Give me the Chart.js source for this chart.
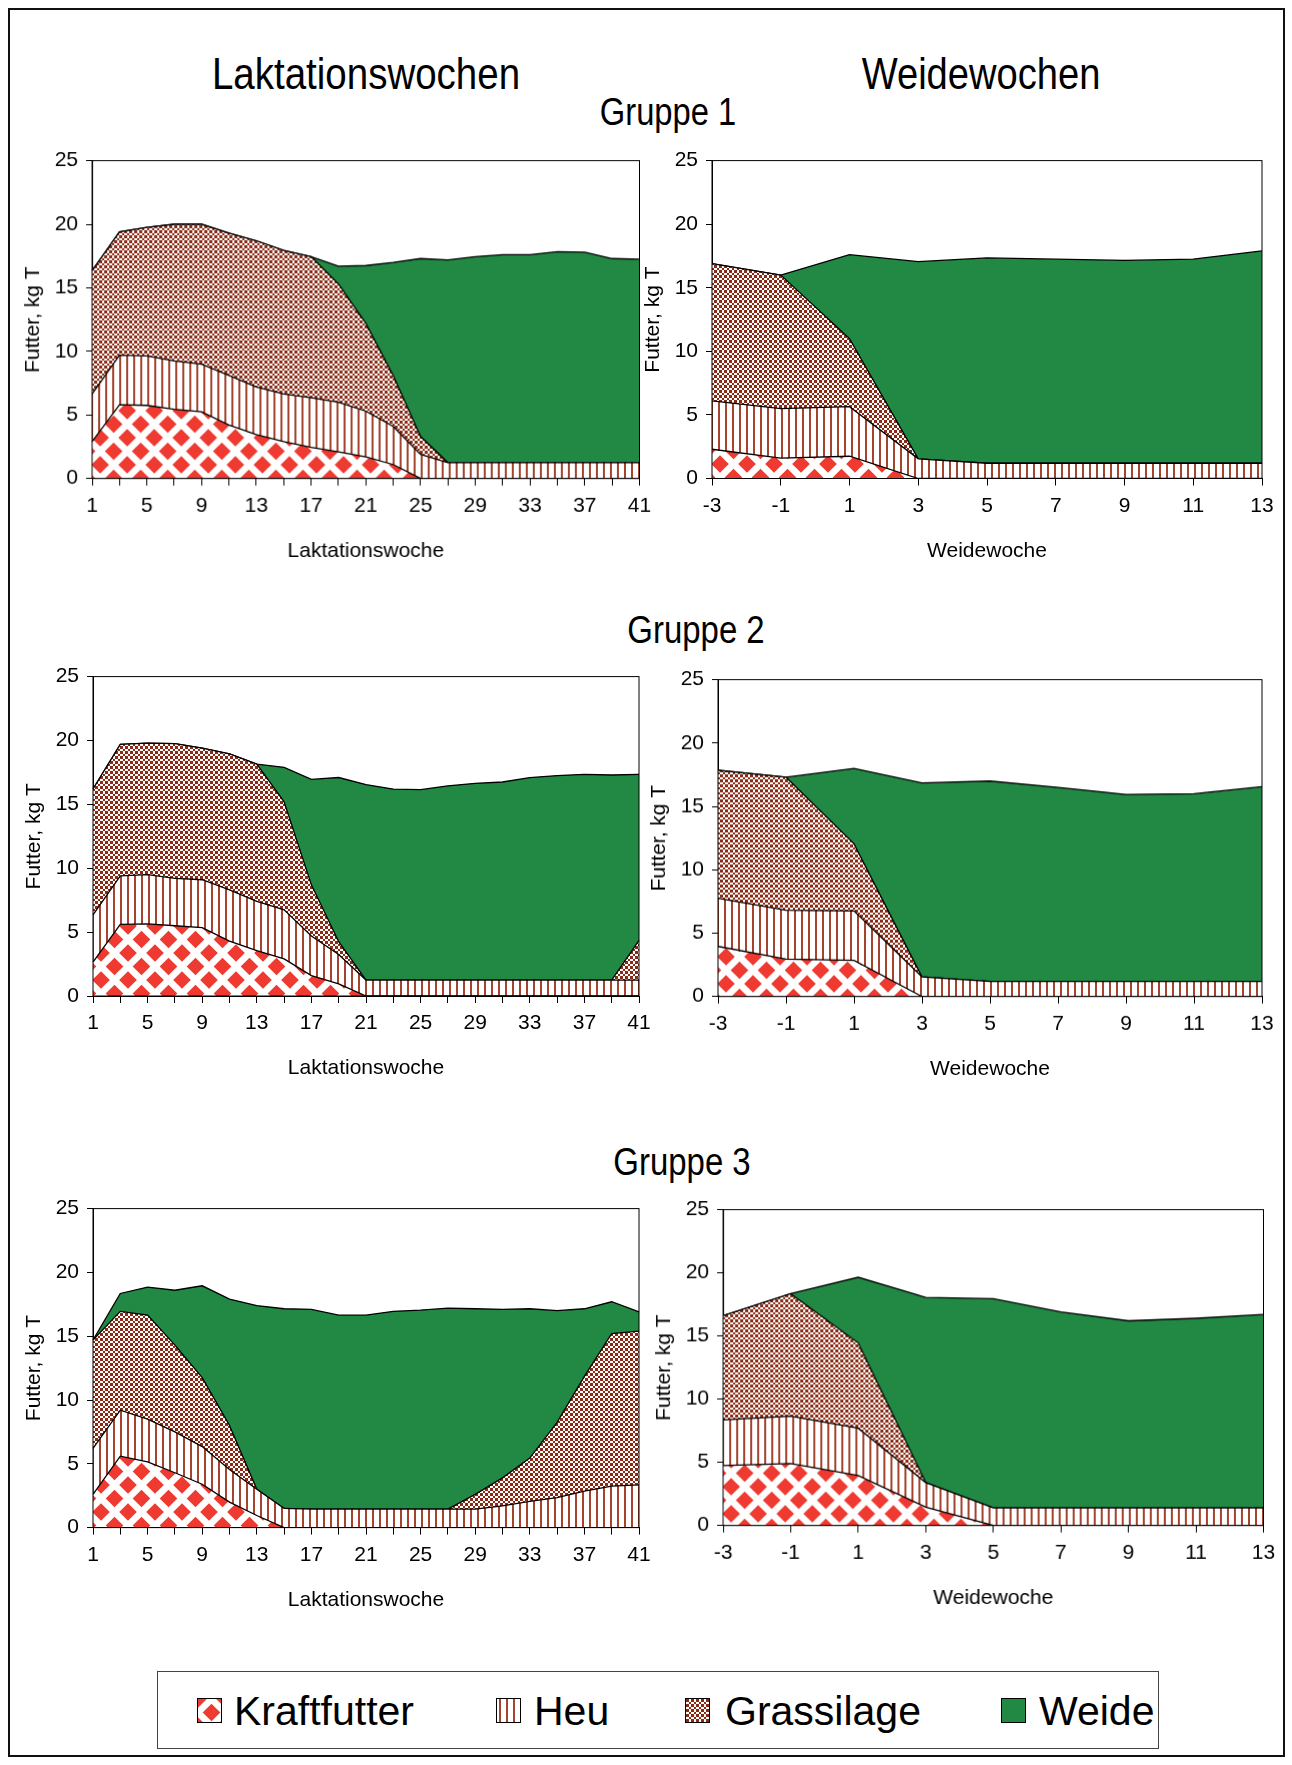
<!DOCTYPE html>
<html>
<head>
<meta charset="utf-8">
<script src="https://cdn.jsdelivr.net/npm/chart.js@4.4.1/dist/chart.umd.min.js"></script>
<style>
  body { margin: 0; background: #fff; font-family: 'Liberation Sans', Arial, sans-serif; }
  #page { position: relative; width: 1292px; height: 1765px; overflow: hidden; }
  #frame { position: absolute; left: 8px; top: 8px; width: 1273px; height: 1745px; border: 2px solid #111; }
  .t { position: absolute; white-space: nowrap; line-height: 1; color: #000; }
  .box { position: absolute; }
  #legend { position: absolute; left: 157px; top: 1671px; width: 1000px; height: 76px; border: 1.5px solid #444; }
  .sw { position: absolute; width: 23px; height: 23px; border: 1.5px solid #000; }
</style>
</head>
<body>
<div id="page">
  <div id="frame"></div>

  <div class="t" data-cx="366" data-cy="74" data-w="308" style="font-size:44px">Laktationswochen</div>
  <div class="t" data-cx="981" data-cy="74" data-w="239" style="font-size:44px">Weidewochen</div>
  <div class="t" data-cx="668" data-cy="112" data-w="136" style="font-size:38px">Gruppe 1</div>
  <div class="t" data-cx="696" data-cy="630" data-w="137" style="font-size:38px">Gruppe 2</div>
  <div class="t" data-cx="682" data-cy="1162" data-w="137" style="font-size:38px">Gruppe 3</div>

  <div class="box" id="b1"><canvas id="c1"></canvas></div>
  <div class="box" id="b2"><canvas id="c2"></canvas></div>
  <div class="box" id="b3"><canvas id="c3"></canvas></div>
  <div class="box" id="b4"><canvas id="c4"></canvas></div>
  <div class="box" id="b5"><canvas id="c5"></canvas></div>
  <div class="box" id="b6"><canvas id="c6"></canvas></div>

  <div id="legend"></div>
  <canvas class="sw" id="sw0" width="23" height="23" style="left:197px;top:1698px"></canvas>
  <div class="t" style="left:234px;top:1691px;font-size:41px">Kraftfutter</div>
  <canvas class="sw" id="sw1" width="23" height="23" style="left:496px;top:1698px"></canvas>
  <div class="t" style="left:534px;top:1691px;font-size:41px">Heu</div>
  <canvas class="sw" id="sw2" width="23" height="23" style="left:685px;top:1698px"></canvas>
  <div class="t" style="left:725px;top:1691px;font-size:41px">Grassilage</div>
  <canvas class="sw" id="sw3" width="23" height="23" style="left:1001px;top:1698px"></canvas>
  <div class="t" style="left:1039px;top:1691px;font-size:41px">Weide</div>
</div>

<script>
// x categories
const laktWeeks = ['1','3','5','7','9','11','13','15','17','19','21','23','25','27','29','31','33','35','37','39','41'];
const weideWeeks = ['-3','-1','1','3','5','7','9','11','13'];
const seriesNames = ['Kraftfutter', 'Heu', 'Grassilage', 'Weide'];

// Gruppe 1, Laktationswoche (kg T)
const g1LaktKraft = [2.9,5.8,5.75,5.45,5.25,4.2,3.45,2.9,2.45,2.1,1.7,1.1,0,0,0,0,0,0,0,0,0];
const g1LaktHeu   = [3.75,3.9,3.9,3.8,3.75,3.9,3.75,3.75,3.9,3.9,3.6,3.0,1.9,1.25,1.25,1.25,1.25,1.25,1.25,1.25,1.25];
const g1LaktGras  = [9.7,9.7,10.1,10.75,11.0,11.2,11.5,11.3,11.1,9.3,6.9,4.0,1.4,0,0,0,0,0,0,0,0];
const g1LaktWeide = [0,0,0,0,0,0,0,0,0,1.4,4.55,8.9,14.0,15.95,16.2,16.35,16.35,16.6,16.55,16.05,16.0];

// Gruppe 1, Weidewoche
const g1WeideKraft = [2.3,1.6,1.75,0,0,0,0,0,0];
const g1WeideHeu   = [3.8,3.9,3.9,1.55,1.2,1.2,1.2,1.2,1.2];
const g1WeideGras  = [10.8,10.5,5.35,0,0,0,0,0,0];
const g1WeideWeide = [0,0,6.6,15.5,16.15,16.05,15.95,16.05,16.7];

// Gruppe 2, Laktationswoche
const g2LaktKraft = [2.65,5.6,5.65,5.5,5.35,4.3,3.55,2.9,1.6,0.95,0,0,0,0,0,0,0,0,0,0,0];
const g2LaktHeu   = [3.7,3.8,3.85,3.7,3.75,4.0,3.85,3.85,3.1,2.3,1.25,1.25,1.25,1.25,1.25,1.25,1.25,1.25,1.25,1.25,1.25];
const g2LaktGras  = [9.85,10.3,10.3,10.55,10.3,10.65,10.75,8.45,4.0,1.0,0,0,0,0,0,0,0,0,0,0,3.1];
const g2LaktWeide = [0,0,0,0,0,0,0,2.7,8.25,12.85,15.3,14.95,14.9,15.2,15.4,15.5,15.85,16.0,16.1,16.05,13.0];

// Gruppe 2, Weidewoche
const g2WeideKraft = [3.95,2.95,2.85,0,0,0,0,0,0];
const g2WeideHeu   = [3.8,3.85,3.9,1.55,1.2,1.2,1.2,1.2,1.2];
const g2WeideGras  = [10.1,10.5,5.3,0,0,0,0,0,0];
const g2WeideWeide = [0,0,5.95,15.3,15.8,15.3,14.75,14.8,15.35];

// Gruppe 3, Laktationswoche
const g3LaktKraft = [2.6,5.6,5.15,4.3,3.4,2.0,0.95,0,0,0,0,0,0,0,0,0,0,0,0,0,0];
const g3LaktHeu   = [3.6,3.6,3.35,3.2,2.95,2.55,2.05,1.5,1.45,1.45,1.45,1.45,1.45,1.45,1.45,1.7,2.05,2.35,2.85,3.25,3.35];
const g3LaktGras  = [8.5,7.75,8.15,6.8,5.4,3.45,0,0,0,0,0,0,0,0,1.15,2.2,3.4,5.9,9.0,11.95,12.05];
const g3LaktWeide = [0,1.4,2.2,4.3,7.2,9.9,14.4,15.65,15.65,15.2,15.2,15.5,15.6,15.75,14.55,13.2,11.7,8.75,5.3,2.5,1.5];

// Gruppe 3, Weidewoche
const g3WeideKraft = [4.75,4.9,3.95,1.45,0,0,0,0,0];
const g3WeideHeu   = [3.6,3.75,3.75,1.95,1.4,1.4,1.4,1.4,1.4];
const g3WeideGras  = [8.25,9.7,6.75,0,0,0,0,0,0];
const g3WeideWeide = [0,0,5.2,14.65,16.55,15.5,14.8,15.0,15.3];

// fill patterns
function makePattern(w, h, draw) {
  const c = document.createElement('canvas');
  c.width = w; c.height = h;
  const g = c.getContext('2d');
  draw(g);
  return g.createPattern(c, 'repeat');
}

const kraftPattern = makePattern(27, 27, g => {
  g.fillStyle = '#fff';
  g.fillRect(0, 0, 27, 27);
  g.fillStyle = '#ee3a30';
  const r = 8.8;
  [[0, 0], [27, 0], [0, 27], [27, 27], [13.5, 13.5]].forEach(([x, y]) => {
    g.beginPath();
    g.moveTo(x, y - r); g.lineTo(x + r, y); g.lineTo(x, y + r); g.lineTo(x - r, y);
    g.closePath();
    g.fill();
  });
});
const heuPattern = makePattern(7, 7, g => {
  g.fillStyle = '#fff';
  g.fillRect(0, 0, 7, 7);
  g.fillStyle = '#a5442e';
  g.fillRect(2, 0, 2, 7);
});
// small brown checkerboard, 3px and 2px cells
const grasPattern = makePattern(5, 5, g => {
  g.fillStyle = '#fff';
  g.fillRect(0, 0, 5, 5);
  g.fillStyle = '#8a2a14';
  g.fillRect(0, 0, 3, 3);
  g.fillRect(3, 3, 2, 2);
});
const weideColor = '#218944';
const fills = [kraftPattern, heuPattern, grasPattern, weideColor];

// plot frame (top + right edges)
const framePlugin = {
  id: 'frame',
  afterDatasetsDraw(chart) {
    const { ctx, chartArea: a } = chart;
    ctx.save();
    ctx.strokeStyle = '#000';
    ctx.lineWidth = 1;
    ctx.strokeRect(a.left, a.top, a.right - a.left, a.bottom - a.top);
    ctx.restore();
  }
};

const tickFont = { family: "'Liberation Sans', Arial, sans-serif", size: 21 };
const titleFont = { family: "'Liberation Sans', Arial, sans-serif", size: 21, lineHeight: 1 };

function makeChart(n, geo, labels, series, xTitle, everyOther) {
  const box = document.getElementById('b' + n);
  const left = geo.plotLeft - 73;
  const top = geo.plotTop - 15;
  const width = geo.plotRight + 20 - left;
  const height = geo.plotBottom + 87 - top;
  Object.assign(box.style, { left: left + 'px', top: top + 'px', width: width + 'px', height: height + 'px' });

  new Chart(document.getElementById('c' + n), {
    type: 'line',
    data: {
      labels: labels,
      datasets: series.map((d, i) => ({
        label: seriesNames[i],
        data: d,
        backgroundColor: fills[i],
        borderColor: '#000',
        borderWidth: 1.3,
        fill: i === 0 ? 'origin' : '-1',
        pointRadius: 0,
        tension: 0
      }))
    },
    options: {
      responsive: true,
      maintainAspectRatio: false,
      animation: false,
      devicePixelRatio: 1,
      events: [],
      layout: { padding: { top: 15, right: 20, left: 0, bottom: 0 } },
      plugins: { legend: { display: false }, tooltip: { enabled: false } },
      scales: {
        x: {
          type: 'category',
          offset: false,
          grid: { drawOnChartArea: false, tickLength: 7, color: '#000' },
          border: { color: '#000', width: 1 },
          ticks: {
            font: tickFont, color: '#000', padding: 8, autoSkip: false, maxRotation: 0,
            callback: function (v, i) { return (!everyOther || i % 2 === 0) ? this.getLabelForValue(v) : ''; }
          },
          title: { display: true, text: xTitle, font: titleFont, color: '#000', padding: { top: 4, bottom: 4 } },
          afterFit: s => { s.height = 87; }
        },
        y: {
          stacked: true,
          min: 0,
          max: 25,
          grid: { drawOnChartArea: false, tickLength: 6, color: '#000' },
          border: { color: '#000', width: 1 },
          ticks: { stepSize: 5, font: tickFont, color: '#000', padding: 8 },
          title: { display: true, text: 'Futter, kg T', font: titleFont, color: '#000', padding: { top: 4, bottom: 4 } },
          afterFit: s => { s.width = 73; }
        }
      }
    },
    plugins: [framePlugin]
  });
}

makeChart(1, { plotLeft: 92, plotRight: 638.5, plotTop: 155, plotBottom: 477.7 }, laktWeeks,
  [g1LaktKraft, g1LaktHeu, g1LaktGras, g1LaktWeide], 'Laktationswoche', true);
makeChart(2, { plotLeft: 712, plotRight: 1262, plotTop: 154.5, plotBottom: 478 }, weideWeeks,
  [g1WeideKraft, g1WeideHeu, g1WeideGras, g1WeideWeide], 'Weidewoche', false);
makeChart(3, { plotLeft: 92.5, plotRight: 638.5, plotTop: 671, plotBottom: 996 }, laktWeeks,
  [g2LaktKraft, g2LaktHeu, g2LaktGras, g2LaktWeide], 'Laktationswoche', true);
makeChart(4, { plotLeft: 718, plotRight: 1262, plotTop: 674, plotBottom: 995.7 }, weideWeeks,
  [g2WeideKraft, g2WeideHeu, g2WeideGras, g2WeideWeide], 'Weidewoche', false);
makeChart(5, { plotLeft: 92.5, plotRight: 638.5, plotTop: 1202.7, plotBottom: 1527.3 }, laktWeeks,
  [g3LaktKraft, g3LaktHeu, g3LaktGras, g3LaktWeide], 'Laktationswoche', true);
makeChart(6, { plotLeft: 723, plotRight: 1262.5, plotTop: 1204, plotBottom: 1524.7 }, weideWeeks,
  [g3WeideKraft, g3WeideHeu, g3WeideGras, g3WeideWeide], 'Weidewoche', false);

// legend swatches
fills.forEach((f, i) => {
  const g = document.getElementById('sw' + i).getContext('2d');
  g.fillStyle = f;
  g.fillRect(0, 0, 23, 23);
});

// centre and fit the heading texts
document.querySelectorAll('.t[data-cx]').forEach(el => {
  const sx = Number(el.dataset.w) / el.offsetWidth;
  el.style.left = el.dataset.cx + 'px';
  el.style.top = el.dataset.cy + 'px';
  el.style.transform = `translate(-50%, -50%) scaleX(${sx.toFixed(3)})`;
});
</script>
</body>
</html>
